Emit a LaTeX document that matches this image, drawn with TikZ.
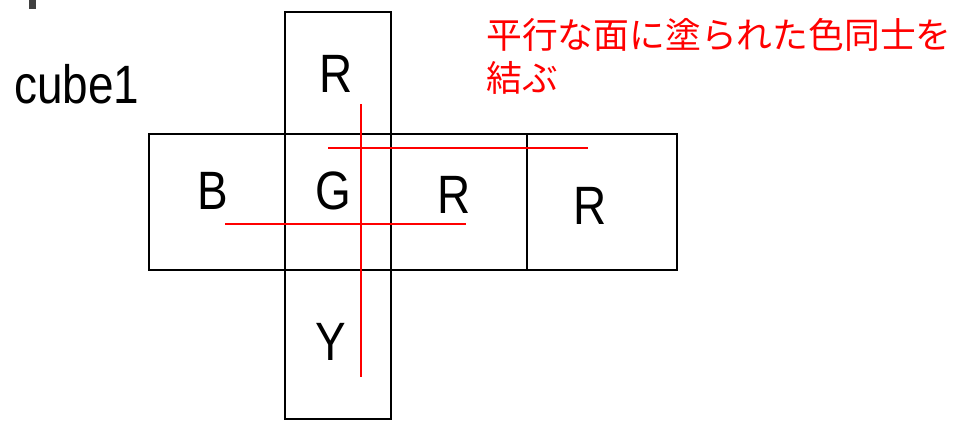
\documentclass[tikz,border=0pt]{standalone}
\usepackage{fontspec}
\newfontfamily\latfont{Liberation Sans}[FakeStretch=0.85]
\newfontfamily\cjk{Noto Sans CJK JP}
\begin{document}
\begin{tikzpicture}[x=1pt,y=-1pt,
  face/.style={draw=black,line width=1.4pt,rectangle,inner sep=0pt,outer sep=0pt},
  lab/.style={anchor=base,inner sep=0pt,font=\latfont\fontsize{54}{60}\selectfont},
  note/.style={anchor=base west,inner sep=0pt,text=red,font=\cjk\fontsize{35.8}{43}\selectfont},
  redline/.style={draw=red,line width=1.7pt}]
\useasboundingbox (0,0) rectangle (961,421);
\fill[black!75] (29,0) rectangle (36,9);
% faces
\node[face,minimum width=106pt,minimum height=122pt] (top) at (338,73) {};
\node[face,minimum width=106pt,minimum height=136pt] (mid) at (338,202) {};
\node[face,minimum width=106pt,minimum height=149pt] (bot) at (338,344.5) {};
\node[face,minimum width=136pt,minimum height=136pt] (left) at (217,202) {};
\node[face,minimum width=136pt,minimum height=136pt] (right1) at (459,202) {};
\node[face,minimum width=150pt,minimum height=136pt] (right2) at (602,202) {};
% labels
\node[lab] (lR) at (336,92) {R};
\node[lab] (lB) at (212.5,209) {B};
\node[lab] (lG) at (333,209) {G};
\node[lab] (lR2) at (454,213) {R};
\node[lab] (lR3) at (590.5,224) {R};
\node[lab] (lY) at (331,360) {Y};
\node[anchor=base west,inner sep=0pt,font=\latfont\fontsize{54}{60}\selectfont] (title) at (14,103) {cube1};
% red connectors
\coordinate (v1) at (360.7,104);
\coordinate (v2) at (360.7,377);
\coordinate (h1) at (328,148.3);
\coordinate (h2) at (587.5,148.3);
\coordinate (g1) at (225,224.3);
\coordinate (g2) at (465.5,224.3);
\draw[redline] (v1) -- (v2);
\draw[redline] (h1) -- (h2);
\draw[redline] (g1) -- (g2);
% note
\node[note] (note1) at (486,48) {平行な面に塗られた色同士を};
\node[note] (note2) at (486,91) {結ぶ};
\end{tikzpicture}
\end{document}
